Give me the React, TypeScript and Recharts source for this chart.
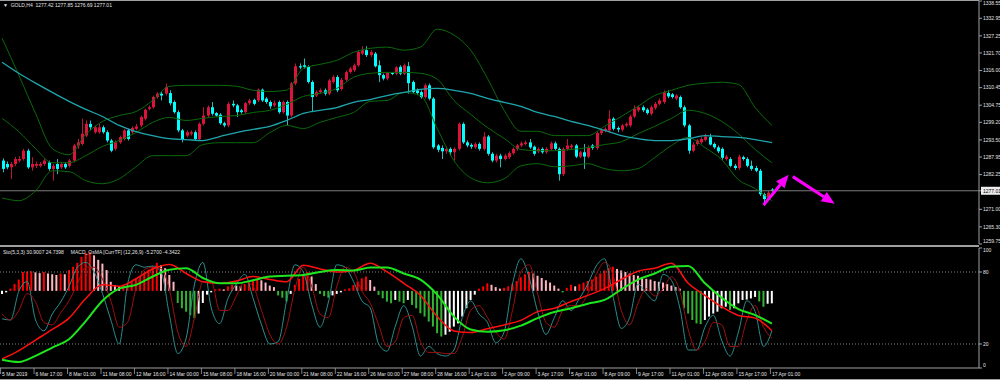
import React from 'react';
import { ComposedChart, Bar, Line, XAxis, YAxis, ReferenceLine, Cell } from 'recharts';

// GOLD H4, one row per candle: [open, high, low, close]
const ohlc: number[][] = [
  [1286.8, 1287.5, 1283.0, 1284.1], [1285.7, 1286.5, 1284.0, 1284.6], [1284.6, 1286.3, 1280.8, 1285.7], [1285.7, 1288.0, 1285.0, 1287.3],
  [1286.8, 1288.2, 1286.2, 1287.3], [1287.3, 1290.6, 1286.8, 1290.0], [1290.0, 1290.6, 1284.1, 1284.6], [1284.6, 1287.9, 1283.5, 1285.7],
  [1285.1, 1286.5, 1284.4, 1285.7], [1285.1, 1286.3, 1284.6, 1285.7], [1285.7, 1287.3, 1285.1, 1286.8], [1286.2, 1286.8, 1283.5, 1284.1],
  [1284.1, 1285.7, 1280.3, 1285.1], [1285.7, 1287.3, 1282.4, 1284.1], [1284.6, 1286.2, 1284.1, 1285.7], [1285.7, 1286.2, 1284.1, 1284.6],
  [1285.1, 1287.3, 1284.6, 1286.8], [1286.8, 1292.2, 1286.2, 1291.7], [1291.7, 1293.8, 1290.6, 1292.7], [1292.2, 1300.4, 1291.7, 1295.5],
  [1294.9, 1299.8, 1294.4, 1298.7], [1298.7, 1299.8, 1296.6, 1297.6], [1296.0, 1298.2, 1295.5, 1297.6], [1296.0, 1298.7, 1295.5, 1297.6],
  [1297.6, 1298.2, 1295.5, 1296.0], [1296.0, 1296.6, 1292.7, 1293.3], [1293.3, 1293.8, 1289.5, 1290.0], [1290.6, 1293.3, 1290.0, 1292.7],
  [1292.7, 1294.9, 1292.2, 1294.4], [1293.8, 1297.1, 1293.3, 1296.6], [1296.6, 1297.1, 1293.3, 1293.8], [1296.0, 1297.9, 1295.5, 1297.4],
  [1297.1, 1298.7, 1296.6, 1297.9], [1298.2, 1301.4, 1297.6, 1300.9], [1300.4, 1303.6, 1299.8, 1303.3], [1303.6, 1304.7, 1303.1, 1304.1],
  [1304.1, 1307.9, 1303.6, 1307.4], [1307.4, 1309.0, 1306.9, 1308.5], [1308.5, 1309.0, 1306.3, 1307.9], [1308.5, 1311.8, 1307.9, 1310.7],
  [1308.7, 1309.6, 1304.7, 1305.4], [1305.8, 1306.3, 1302.0, 1302.5], [1302.5, 1303.1, 1296.0, 1296.6], [1296.6, 1297.1, 1292.7, 1293.8],
  [1294.9, 1296.6, 1294.4, 1296.0], [1295.5, 1296.6, 1294.9, 1296.0], [1296.0, 1296.6, 1293.3, 1293.8], [1293.8, 1299.2, 1293.3, 1298.7],
  [1298.7, 1304.1, 1298.2, 1301.4], [1301.4, 1304.7, 1300.9, 1304.1], [1304.1, 1305.8, 1301.4, 1302.0], [1302.2, 1302.5, 1300.9, 1301.4],
  [1301.7, 1302.2, 1298.4, 1298.9], [1298.9, 1299.4, 1297.6, 1298.2], [1298.2, 1305.8, 1297.6, 1305.2], [1305.2, 1306.3, 1304.1, 1304.7],
  [1304.7, 1305.2, 1300.9, 1302.5], [1303.1, 1303.6, 1302.0, 1302.5], [1302.5, 1305.8, 1302.0, 1305.4], [1305.4, 1306.9, 1304.9, 1306.3],
  [1306.5, 1306.9, 1304.7, 1305.2], [1306.3, 1310.2, 1305.8, 1309.8], [1309.8, 1310.2, 1305.8, 1306.3], [1306.9, 1307.4, 1305.2, 1305.8],
  [1305.8, 1306.3, 1303.6, 1304.4], [1304.7, 1306.3, 1304.1, 1305.4], [1305.8, 1306.3, 1302.0, 1302.5], [1302.5, 1306.3, 1302.0, 1305.8],
  [1305.8, 1306.3, 1298.2, 1301.4], [1301.4, 1312.3, 1300.9, 1311.8], [1311.8, 1318.3, 1311.2, 1317.4], [1317.4, 1318.3, 1316.4, 1317.0],
  [1317.7, 1319.9, 1316.6, 1317.2], [1317.2, 1317.7, 1311.8, 1312.3], [1312.3, 1312.8, 1302.5, 1307.4], [1307.9, 1309.6, 1307.4, 1309.0],
  [1309.0, 1310.2, 1308.5, 1309.6], [1309.6, 1310.2, 1307.9, 1308.5], [1308.5, 1313.3, 1308.0, 1312.8], [1312.3, 1314.5, 1311.8, 1313.9],
  [1313.9, 1314.5, 1309.0, 1309.6], [1310.0, 1313.6, 1309.5, 1313.0], [1313.0, 1316.0, 1312.5, 1315.5], [1315.5, 1317.2, 1315.0, 1316.6],
  [1316.1, 1318.3, 1315.5, 1317.7], [1317.7, 1322.6, 1317.2, 1322.0], [1321.5, 1323.9, 1321.0, 1322.6], [1322.6, 1323.9, 1320.4, 1321.0],
  [1321.0, 1322.6, 1320.4, 1322.0], [1321.5, 1322.0, 1317.0, 1317.4], [1317.7, 1319.3, 1312.3, 1314.5], [1314.5, 1315.0, 1312.8, 1313.4],
  [1313.4, 1315.5, 1312.8, 1315.2], [1315.2, 1315.5, 1314.5, 1315.0], [1315.0, 1317.4, 1314.5, 1317.0], [1317.2, 1317.7, 1314.5, 1315.0],
  [1315.0, 1318.3, 1314.5, 1317.7], [1317.4, 1318.8, 1308.5, 1311.9], [1312.3, 1312.8, 1308.5, 1309.0], [1309.6, 1310.2, 1308.0, 1308.7],
  [1309.0, 1309.6, 1306.9, 1307.4], [1307.4, 1311.8, 1306.9, 1311.2], [1311.2, 1311.8, 1306.3, 1306.9], [1306.9, 1307.4, 1290.6, 1291.1],
  [1291.7, 1292.2, 1289.5, 1290.3], [1290.9, 1291.7, 1287.3, 1289.8], [1289.8, 1291.3, 1289.0, 1290.6], [1290.6, 1291.1, 1288.4, 1289.5],
  [1289.5, 1291.1, 1286.8, 1290.6], [1290.6, 1299.2, 1290.0, 1298.7], [1298.7, 1299.2, 1292.2, 1292.7], [1292.7, 1293.3, 1291.1, 1291.7],
  [1291.9, 1292.4, 1290.6, 1291.3], [1291.1, 1292.7, 1290.6, 1292.2], [1292.2, 1292.7, 1290.0, 1290.6], [1290.6, 1296.0, 1290.0, 1294.6],
  [1294.6, 1295.1, 1288.4, 1289.0], [1289.0, 1289.5, 1286.2, 1286.8], [1286.8, 1289.0, 1286.2, 1288.4], [1288.4, 1289.0, 1284.6, 1287.3],
  [1287.3, 1289.0, 1286.8, 1288.4], [1287.9, 1289.8, 1287.3, 1289.2], [1289.2, 1291.1, 1288.7, 1290.6], [1290.6, 1292.2, 1290.0, 1291.7],
  [1291.7, 1293.0, 1291.1, 1292.4], [1292.2, 1293.3, 1291.7, 1292.7], [1292.7, 1293.8, 1290.6, 1291.1], [1291.3, 1291.7, 1288.4, 1289.0],
  [1289.8, 1291.1, 1289.2, 1290.6], [1290.6, 1291.1, 1289.0, 1289.5], [1289.5, 1291.1, 1289.0, 1290.6], [1290.6, 1293.0, 1290.0, 1292.4],
  [1292.4, 1293.0, 1290.0, 1290.6], [1290.6, 1291.1, 1280.3, 1282.4], [1282.4, 1291.1, 1281.8, 1290.6], [1290.6, 1293.8, 1290.0, 1291.7],
  [1291.1, 1292.2, 1290.6, 1291.7], [1291.7, 1292.2, 1287.6, 1288.1], [1288.1, 1290.0, 1287.6, 1289.5], [1289.5, 1292.2, 1284.1, 1288.1],
  [1288.1, 1291.7, 1287.6, 1291.1], [1291.7, 1292.2, 1290.3, 1290.9], [1290.9, 1296.2, 1290.3, 1295.7], [1295.7, 1297.1, 1295.1, 1296.6],
  [1296.6, 1297.6, 1296.0, 1297.1], [1296.6, 1303.1, 1296.0, 1300.4], [1300.4, 1300.9, 1296.6, 1297.1], [1297.4, 1297.9, 1296.0, 1296.9],
  [1296.8, 1298.7, 1296.2, 1298.2], [1298.2, 1299.2, 1297.6, 1298.7], [1298.2, 1301.7, 1297.6, 1301.1], [1301.1, 1304.7, 1300.6, 1303.6],
  [1303.1, 1304.7, 1302.5, 1304.1], [1304.1, 1304.7, 1302.5, 1303.1], [1303.3, 1303.8, 1301.7, 1302.2], [1302.0, 1304.7, 1301.4, 1304.1],
  [1303.9, 1305.8, 1303.3, 1305.2], [1305.2, 1306.9, 1304.7, 1306.3], [1305.8, 1309.6, 1305.2, 1309.0], [1308.7, 1309.6, 1307.0, 1307.6],
  [1308.3, 1308.7, 1306.9, 1307.4], [1306.9, 1308.3, 1306.3, 1307.9], [1307.4, 1307.9, 1303.6, 1304.1], [1304.1, 1304.7, 1297.6, 1298.2],
  [1298.2, 1298.7, 1289.0, 1290.0], [1290.0, 1292.7, 1289.5, 1292.0], [1292.2, 1293.8, 1291.7, 1293.3], [1292.7, 1294.4, 1292.2, 1293.8],
  [1293.5, 1295.5, 1293.0, 1294.6], [1294.4, 1295.5, 1291.7, 1292.0], [1292.2, 1292.7, 1290.6, 1291.1], [1291.1, 1291.7, 1289.2, 1289.8],
  [1290.6, 1291.1, 1287.1, 1287.7], [1287.3, 1288.7, 1286.8, 1288.1], [1287.3, 1287.9, 1284.6, 1285.1], [1285.1, 1285.7, 1283.8, 1284.4],
  [1284.4, 1288.7, 1283.8, 1288.1], [1287.9, 1288.4, 1286.8, 1287.3], [1287.3, 1287.9, 1284.6, 1285.1], [1285.1, 1286.8, 1283.5, 1284.1],
  [1284.4, 1285.1, 1283.0, 1283.5], [1283.5, 1284.1, 1275.3, 1275.9], [1275.9, 1276.4, 1272.1, 1274.3], [1274.3, 1277.0, 1273.8, 1276.4],
  [1277.42, 1277.85, 1276.69, 1277.01],
];

// Bollinger bands and moving average, read every 4th bar
const bbUpper = [1326.5, 1314.5, 1302.1, 1290.7, 1288.7, 1295.3, 1299.5, 1301.4, 1302.7, 1306.3, 1310.9, 1311.2, 1311.2, 1311.2, 1310.9, 1309.6, 1309.2, 1309.6, 1316.7, 1318.0, 1319.3, 1321.9, 1323.2, 1323.6, 1322.6, 1323.6, 1329.4, 1327.5, 1322.6, 1313.5, 1303.1, 1296.3, 1296.3, 1294.9, 1294.9, 1294.9, 1297.9, 1301.1, 1304.4, 1307.9, 1309.6, 1311.2, 1311.9, 1312.2, 1311.5, 1304.0, 1298.2];
const bbMiddle = [1300.5, 1296.2, 1290.7, 1286.1, 1286.1, 1288.4, 1291.4, 1293.3, 1295.9, 1299.2, 1300.8, 1299.8, 1300.5, 1301.1, 1301.4, 1302.4, 1303.1, 1305.0, 1307.6, 1308.6, 1310.2, 1313.8, 1315.1, 1315.4, 1315.4, 1315.1, 1313.2, 1306.3, 1301.8, 1297.5, 1294.0, 1290.4, 1290.0, 1290.0, 1290.4, 1291.0, 1292.0, 1292.9, 1295.5, 1297.9, 1300.5, 1303.1, 1302.1, 1299.5, 1295.5, 1290.4, 1286.1];
const bbLower = [1274.7, 1273.8, 1277.0, 1283.5, 1283.2, 1280.3, 1279.3, 1280.9, 1284.8, 1288.4, 1288.4, 1288.4, 1292.0, 1292.6, 1292.6, 1292.6, 1295.9, 1298.2, 1297.2, 1299.2, 1300.8, 1302.4, 1306.0, 1306.3, 1308.9, 1307.9, 1297.2, 1286.8, 1281.2, 1279.6, 1280.9, 1285.1, 1285.8, 1284.8, 1285.1, 1285.8, 1284.2, 1283.5, 1284.2, 1287.8, 1291.7, 1294.3, 1291.0, 1287.1, 1280.6, 1277.7, 1273.8];
const maLine = [1318.7, 1315.1, 1311.9, 1308.9, 1306.0, 1303.4, 1301.1, 1298.2, 1296.2, 1294.9, 1293.9, 1293.6, 1293.3, 1294.6, 1295.9, 1296.9, 1297.9, 1299.8, 1302.1, 1303.1, 1304.0, 1305.7, 1306.6, 1307.9, 1308.9, 1309.9, 1310.2, 1309.6, 1308.6, 1307.0, 1305.7, 1304.4, 1302.4, 1301.1, 1299.5, 1298.2, 1296.6, 1294.9, 1293.9, 1293.3, 1293.3, 1293.9, 1294.9, 1294.6, 1294.3, 1293.6, 1292.6];

// MACD_OsMA histogram, one per bar
const osma = [
  -0.4, -0.2, 0.3, 0.9, 1.5, 2.5, 2.55, 2.6, 2.45, 2.35, 2.5, 2.3, 2.2, 2.1, 2.3, 2.2, 2.75, 3.2, 3.7, 4.5,
  5.0, 5.15, 4.7, 4.1, 3.6, 2.75, 1.2, 0.78, 0.6, 0.8, 1.0, 1.3, 1.6, 2.0, 2.4, 2.8, 3.3, 3.7, 3.4, 3.0,
  2.1, 1.2, -1.6, -2.3, -2.75, -3.2, -3.6, -3.0, -1.6, -0.5, -0.2, 0.2, 0.3, 0.2, 0.6, 0.8, 0.7, 0.6, 0.9, 1.2,
  1.3, 1.6, 1.4, 1.1, 0.7, 0.5, -0.6, -0.9, -1.4, -0.4, 0.8, 1.6, 2.2, 2.5, 1.9, 0.9, -0.4, -0.7, -0.9, -0.6,
  -0.4, -0.2, 0.2, 0.34, 0.78, 1.2, 1.66, 1.9, 1.44, 0.56, -0.54, -0.98, -1.42, -1.64, -1.2, -1.42, -1.64, -1.2, -1.86, -2.3,
  -2.96, -3.4, -4.06, -4.72, -5.6, -6.04, -5.8, -5.4, -4.72, -4.3, -3.4, -2.3, -1.2, -0.5, 0.3, 0.6, 1.0, 0.8, 0.5, 0.3,
  0.4, 0.6, 0.9, 1.3, 1.8, 2.2, 2.5, 2.3, 2.0, 1.7, 1.4, 1.1, 0.7, 0.3, -0.2, 0.4, 0.8, 0.6, 0.9, 1.1,
  1.3, 1.5, 1.9, 2.3, 2.7, 3.0, 3.2, 2.9, 2.7, 2.5, 2.3, 2.1, 2.0, 1.8, 1.6, 1.5, 1.3, 1.2, 1.1, 0.9,
  0.7, 0.5, 0.3, -2.3, -3.0, -3.85, -4.3, -4.4, -3.85, -3.4, -3.0, -2.75, -2.3, -2.1, -2.5, -2.3, -1.65, -1.2, -1.15, -1.0,
  -0.8, -1.4, -2.1, -1.7, -1.65,
];
// MACD and signal lines, every 4th bar
const macdMain = [-9.0, -7.9, -6.5, -5.1, -3.6, -1.0, 0.8, 0.6, 1.6, 2.9, 3.5, 2.3, 1.2, 1.0, 1.3, 1.9, 1.5, 1.2, 3.4, 2.9, 2.5, 2.7, 3.65, 2.5, 1.0, -0.6, -3.4, -5.3, -5.5, -5.0, -4.5, -3.9, -2.75, -2.3, -1.4, -0.6, 0.3, 1.5, 2.6, 3.0, 3.65, 1.0, -0.6, -2.1, -3.25, -3.6, -5.27];
const macdSignal = [-9.1, -9.4, -8.6, -7.5, -6.4, -4.0, -1.3, 0.3, 0.8, 1.9, 2.8, 3.0, 1.7, 1.0, 1.0, 1.4, 1.9, 2.0, 2.1, 2.5, 2.75, 2.7, 3.1, 3.1, 2.3, 1.5, -0.5, -3.4, -5.1, -5.4, -5.2, -4.6, -3.6, -2.8, -2.3, -1.7, -1.2, 0.2, 1.5, 2.3, 3.2, 3.3, 1.0, -0.9, -2.4, -3.2, -4.34];
// Stochastic (5,3,3), every 2nd bar
const stochMain = [41, 40, 64, 72, 40, 31, 45, 55, 68, 84, 88, 80, 62, 40, 20, 70, 86, 84, 85, 80, 44, 12, 25, 70, 88, 50, 37, 58, 70, 78, 58, 36, 20, 22, 56, 86, 80, 53, 34, 55, 86, 84, 72, 56, 50, 20, 14, 35, 52, 35, 10, 18, 12, 10, 15, 42, 56, 45, 38, 21, 30, 70, 91, 75, 47, 28, 42, 56, 48, 58, 70, 85, 91, 60, 33, 42, 70, 62, 56, 78, 73, 50, 15, 15, 34, 44, 23, 10, 30, 56, 47, 18, 30.9];
const stochSignal = [45, 40, 48, 62, 55, 38, 36, 46, 56, 70, 84, 84, 74, 56, 34, 38, 66, 82, 84, 83, 65, 30, 18, 42, 72, 72, 48, 48, 60, 72, 68, 48, 28, 20, 34, 66, 84, 68, 45, 42, 68, 84, 80, 64, 54, 36, 18, 22, 42, 44, 22, 13, 13, 12, 12, 26, 48, 52, 42, 30, 24, 48, 80, 86, 62, 38, 34, 48, 52, 52, 62, 78, 88, 78, 48, 36, 54, 66, 60, 66, 76, 64, 32, 15, 22, 38, 36, 18, 18, 40, 52, 34, 24.7];

const priceTicks = [1338.55, 1332.95, 1327.25, 1321.7, 1316.0, 1310.45, 1304.75, 1299.2, 1293.5, 1287.95, 1282.25, 1277.01, 1271.0, 1265.3, 1259.75];
const lastPrice = 1277.01;
const stoLevels = [0, 20, 80, 100];
const timeLabels = ['5 Mar 2019', '6 Mar 17:00', '8 Mar 01:00', '11 Mar 08:00', '12 Mar 16:00', '14 Mar 00:00', '15 Mar 08:00', '18 Mar 16:00', '20 Mar 00:00', '21 Mar 08:00', '22 Mar 16:00', '26 Mar 00:00', '27 Mar 08:00', '28 Mar 16:00', '1 Apr 01:00', '2 Apr 09:00', '3 Apr 17:00', '5 Apr 01:00', '8 Apr 09:00', '9 Apr 17:00', '11 Apr 01:00', '12 Apr 09:00', '15 Apr 17:00', '17 Apr 01:00'];
// hand-drawn forecast arrows (bar index, price)
const arrowUp = [{ x: 182, y: 1272.4 }, { x: 188, y: 1282.2 }];
const arrowDown = [{ x: 189, y: 1281.6 }, { x: 199, y: 1272.8 }];

const SLOTS = 234; // bars + empty chart shift on the right
const FONT = '"Liberation Sans", Arial, sans-serif';
const TXT = '#e4e4e4';
const FRAME = '#a0a0a0';
const BULL = '#dc143c';
const BEAR = '#00ffff';
const MAGENTA = '#ff00ff';

const rows = Array.from({ length: SLOTS }, (_, i) => {
  const r: Record<string, any> = { i };
  const k = ohlc[i];
  if (k) {
    r.o = k[0]; r.h = k[1]; r.l = k[2]; r.c = k[3];
    r.hl = [k[2], k[1]];
    r.osma = osma[i];
  }
  if (i % 4 === 0 && i / 4 < bbUpper.length) {
    const j = i / 4;
    r.bbU = bbUpper[j]; r.bbM = bbMiddle[j]; r.bbL = bbLower[j]; r.ma = maLine[j];
    r.macd = macdMain[j]; r.sig = macdSignal[j];
  }
  if (i % 2 === 0 && i / 2 < stochMain.length) {
    r.stoM = stochMain[i / 2]; r.stoS = stochSignal[i / 2];
  }
  return r;
});

const osmaColor = (i: number) => {
  const v = osma[i];
  if (v == null) return 'transparent';
  const p = i > 0 ? osma[i - 1] : v;
  if (v >= 0) return v >= p ? '#ff0000' : '#ffb6c1';
  return v < p ? '#32b432' : '#ffffff';
};

const Candle = (props: any) => {
  const { x, y, width, height, payload } = props;
  if (!payload || payload.o == null || !height) return null;
  const { o, h, l, c } = payload;
  const top = Math.min(y, y + height);
  const k = Math.abs(height) / (h - l);
  const py = (p: number) => top + (h - p) * k;
  const up = c >= o;
  const cx = Math.round(x + width / 2) + 0.5;
  const bTop = py(Math.max(o, c));
  const bBot = py(Math.min(o, c));
  return (
    <g>
      <line x1={cx} x2={cx} y1={top} y2={top + Math.abs(height)} stroke={up ? '#b8163a' : '#2ab8b8'} strokeWidth={1} />
      <rect x={cx - 1.5} y={bTop} width={3} height={Math.max(1, bBot - bTop)} fill={up ? BULL : BEAR} />
    </g>
  );
};

const Arrow = (props: any) => {
  const { x1, y1, x2, y2 } = props;
  const a = Math.atan2(y2 - y1, x2 - x1);
  const len = 13, half = 5.5;
  const bx = x2 - len * Math.cos(a);
  const by = y2 - len * Math.sin(a);
  const px = -Math.sin(a) * half;
  const py = Math.cos(a) * half;
  return (
    <g>
      <line x1={x1} y1={y1} x2={bx} y2={by} stroke={MAGENTA} strokeWidth={3} />
      <polygon points={`${x2},${y2} ${bx + px},${by + py} ${bx - px},${by - py}`} fill={MAGENTA} />
    </g>
  );
};

const PriceTick = (props: any) => {
  const { x, y, payload } = props;
  const v = payload.value as number;
  const label = v.toFixed(2);
  // keep the end labels inside the panel
  const shift = v === priceTicks[0] ? 2.5 : v === priceTicks[priceTicks.length - 1] ? -2.5 : 0;
  if (v === lastPrice) {
    return (
      <g>
        <rect x={x - 2} y={y - 4} width={20} height={8} fill="#ececec" />
        <text x={x} y={y} dy={1.8} fontSize={5} fontFamily={FONT} fill="#000">{label}</text>
      </g>
    );
  }
  return <text x={x} y={y + shift} dy={1.8} fontSize={5} fontFamily={FONT} fill={TXT}>{label}</text>;
};

const LevelTick = (props: any) => {
  const { x, y, payload } = props;
  const v = payload.value as number;
  const shift = v === 0 ? -3 : v === 100 ? 2 : 0;
  return <text x={x} y={y + shift} dy={1.8} fontSize={5} fontFamily={FONT} fill={TXT}>{v}</text>;
};

const TimeTick = (props: any) => {
  const { x, y, payload } = props;
  const i = payload.value as number;
  if (i % 8 !== 0) return null;
  const label = timeLabels[i / 8];
  if (!label) return null;
  return (
    <g>
      <line x1={x - 1.5} x2={x - 1.5} y1={y - 4} y2={y + 2} stroke={FRAME} strokeWidth={0.8} />
      <text x={x} y={y + 4} fontSize={5} fontFamily={FONT} fill={TXT}>{label}</text>
    </g>
  );
};

export default function App() {
  return (
    <div style={{ position: 'fixed', left: 0, top: 0, width: 1000, height: 380, background: '#000', overflow: 'hidden' }}>
      <div style={{ position: 'absolute', left: 0, top: 0, width: 979, height: 1, background: FRAME }} />
      <div style={{ position: 'absolute', left: 0, top: 245, width: 979, height: 2, background: FRAME }} />
      <div style={{ position: 'absolute', left: 0, top: 379, width: 1000, height: 1, background: FRAME }} />

      <div style={{ position: 'absolute', left: 0, top: 0 }}>
        <ComposedChart width={1000} height={245} data={rows} margin={{ top: 1, right: 0, bottom: 1, left: 0 }}>
          <XAxis dataKey="i" type="category" hide />
          <YAxis
            orientation="right"
            width={21}
            domain={[1259.75, 1338.55]}
            ticks={priceTicks}
            interval={0}
            allowDataOverflow
            axisLine={{ stroke: FRAME }}
            tickLine={{ stroke: FRAME }}
            tickSize={3}
            tickMargin={1}
            tick={<PriceTick />}
          />
          <ReferenceLine y={lastPrice} stroke="#7c7c7c" strokeWidth={1} />
          <Line dataKey="bbU" type="monotone" stroke="#0b6a0b" strokeWidth={1} dot={false} activeDot={false} connectNulls isAnimationActive={false} />
          <Line dataKey="bbM" type="monotone" stroke="#0b6a0b" strokeWidth={1} dot={false} activeDot={false} connectNulls isAnimationActive={false} />
          <Line dataKey="bbL" type="monotone" stroke="#0b6a0b" strokeWidth={1} dot={false} activeDot={false} connectNulls isAnimationActive={false} />
          <Line dataKey="ma" type="monotone" stroke="#1fa6ad" strokeWidth={1.3} dot={false} activeDot={false} connectNulls isAnimationActive={false} />
          <Bar dataKey="hl" barSize={3} shape={<Candle />} isAnimationActive={false} />
          <ReferenceLine segment={arrowUp} shape={<Arrow />} ifOverflow="visible" />
          <ReferenceLine segment={arrowDown} shape={<Arrow />} ifOverflow="visible" />
        </ComposedChart>
      </div>

      <div style={{ position: 'absolute', left: 0, top: 247 }}>
        <ComposedChart width={1000} height={133} data={rows} margin={{ top: 1, right: 0, bottom: 0, left: 0 }}>
          <XAxis
            dataKey="i"
            type="category"
            interval={0}
            height={12}
            axisLine={{ stroke: FRAME }}
            tickLine={false}
            tickSize={2}
            tickMargin={2}
            tick={<TimeTick />}
          />
          <YAxis
            yAxisId="sto"
            orientation="right"
            width={21}
            domain={[0, 100]}
            ticks={stoLevels}
            interval={0}
            axisLine={{ stroke: FRAME }}
            tickLine={{ stroke: FRAME }}
            tickSize={3}
            tickMargin={1}
            tick={<LevelTick />}
          />
          <YAxis yAxisId="macd" hide domain={[-10.2, 5.67]} allowDataOverflow />
          <ReferenceLine yAxisId="sto" y={80} stroke="#808080" strokeDasharray="1 2" />
          <ReferenceLine yAxisId="sto" y={20} stroke="#808080" strokeDasharray="1 2" />
          <Bar yAxisId="macd" dataKey="osma" barSize={2} isAnimationActive={false}>
            {rows.map((r) => (
              <Cell key={r.i} fill={osmaColor(r.i)} />
            ))}
          </Bar>
          <Line yAxisId="sto" dataKey="stoM" type="monotone" stroke="#2b8f8f" strokeWidth={1} dot={false} activeDot={false} connectNulls isAnimationActive={false} />
          <Line yAxisId="sto" dataKey="stoS" type="monotone" stroke="#a01010" strokeWidth={1} dot={false} activeDot={false} connectNulls isAnimationActive={false} />
          <Line yAxisId="macd" dataKey="macd" type="monotone" stroke="#ff1010" strokeWidth={1.5} dot={false} activeDot={false} connectNulls isAnimationActive={false} />
          <Line yAxisId="macd" dataKey="sig" type="monotone" stroke="#1ee61e" strokeWidth={2} dot={false} activeDot={false} connectNulls isAnimationActive={false} />
        </ComposedChart>
      </div>

      <div style={{ position: 'absolute', left: 3, top: 2, fontFamily: FONT, fontSize: 5, lineHeight: '6px', color: TXT, whiteSpace: 'pre' }}>
        {'\u25BC  GOLD,H4  1277.42 1277.85 1276.69 1277.01'}
      </div>
      <div style={{ position: 'absolute', left: 3, top: 249, fontFamily: FONT, fontSize: 5, lineHeight: '6px', color: TXT, whiteSpace: 'pre' }}>
        {'Sto(5,3,3) 30.9007 24.7398     MACD_OsMA [CurrTF] (12,26,9) -5.2700 -4.3422'}
      </div>
    </div>
  );
}
